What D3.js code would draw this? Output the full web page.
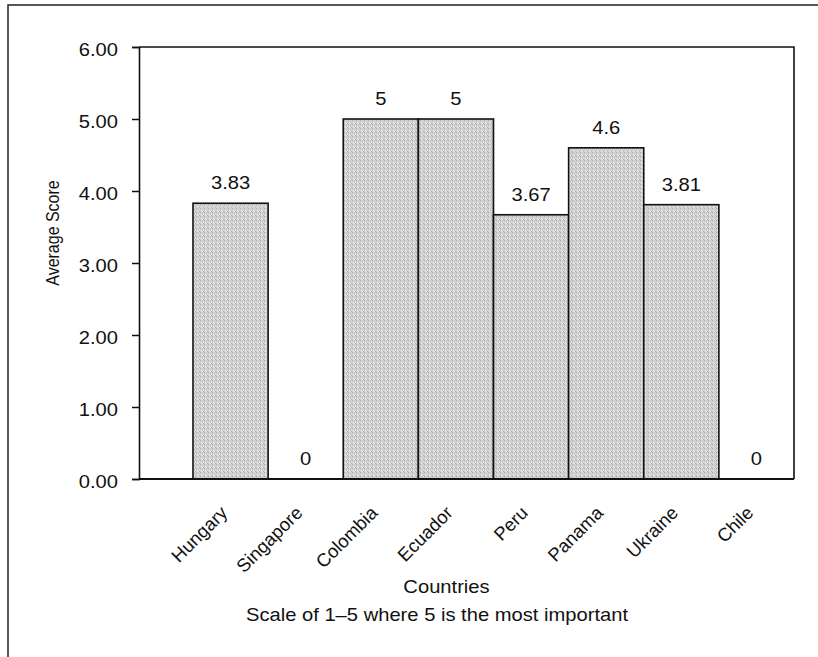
<!DOCTYPE html>
<html>
<head>
<meta charset="utf-8">
<script src="https://cdn.jsdelivr.net/npm/d3@7"></script>
<style>
  html, body { margin: 0; padding: 0; background: #fff; }
  svg { display: block; }
  text { font-family: "Liberation Sans", Arial, Helvetica, sans-serif; fill: #111; }
</style>
</head>
<body>
<svg id="chart" width="818" height="657"></svg>
<script>
// Average importance score by country
const countries = ["Hungary", "Singapore", "Colombia", "Ecuador", "Peru", "Panama", "Ukraine", "Chile"];
const scores = [3.83, 0, 5, 5, 3.67, 4.6, 3.81, 0];
const yTicks = [0, 1, 2, 3, 4, 5, 6];
const yTitle = "Average Score";
const xTitle = "Countries";
const note = "Scale of 1\u20135 where 5 is the most important";

const W = 818, H = 657;
const plot = { left: 139, right: 794, top: 47, bottom: 479 };
const barsLeft = 193;          // first bar starts to the right of the axis
const sx = 1.12;               // horizontal widening of the typeface

const svg = d3.select("#chart");

// pattern: fine grey stipple for the bars
const defs = svg.append("defs");
const pat = defs.append("pattern")
  .attr("id", "stipple").attr("patternUnits", "userSpaceOnUse")
  .attr("width", 4).attr("height", 4);
pat.append("rect").attr("width", 4).attr("height", 4).attr("fill", "#d3d3d3");
[[0,0,"#a9a9a9"],[2,1,"#bdbdbd"],[1,2,"#efefef"],[3,3,"#b4b4b4"],[2,3,"#e6e6e6"],[0,2,"#c4c4c4"]]
  .forEach(([x, y, c]) => pat.append("rect").attr("x", x).attr("y", y)
    .attr("width", 1).attr("height", 1).attr("fill", c));

// outer frame (top and left edges)
svg.append("path")
  .attr("d", `M8,${H} L8,5 L${W},5`)
  .attr("fill", "none").attr("stroke", "#222").attr("stroke-width", 1.5);

const x = d3.scaleBand().domain(countries).range([barsLeft, plot.right]).padding(0);
const y = d3.scaleLinear().domain([0, 6]).range([plot.bottom, plot.top]);

// bars
svg.append("g").selectAll("rect")
  .data(countries.map((c, i) => ({ c, v: scores[i] })))
  .join("rect")
  .attr("x", d => x(d.c))
  .attr("y", d => y(d.v))
  .attr("width", x.bandwidth())
  .attr("height", d => y(0) - y(d.v))
  .attr("fill", "url(#stipple)")
  .attr("stroke", "#111").attr("stroke-width", 1.6);

// plot box: top and right edges
svg.append("path")
  .attr("d", `M${plot.left},${plot.top} L${plot.right},${plot.top} L${plot.right},${plot.bottom}`)
  .attr("fill", "none").attr("stroke", "#111").attr("stroke-width", 1.6);

// x baseline
svg.append("line")
  .attr("x1", plot.left).attr("x2", plot.right)
  .attr("y1", y(0)).attr("y2", y(0))
  .attr("stroke", "#111").attr("stroke-width", 1.8);

// y axis
const yAxis = svg.append("g")
  .attr("transform", `translate(${plot.left},0)`)
  .call(d3.axisLeft(y).tickValues(yTicks).tickSize(7).tickPadding(11.8)
    .tickFormat(d3.format(".2f")));
yAxis.select(".domain").attr("stroke", "#111").attr("stroke-width", 1.6);
yAxis.selectAll(".tick line").attr("stroke", "#111").attr("stroke-width", 1.5);
yAxis.selectAll(".tick text")
  .attr("font-size", 18).attr("fill", "#111")
  .attr("font-family", "Liberation Sans, Arial, sans-serif")
  .attr("dy", "0.47em")
  .attr("transform", `scale(${sx},1)`);

// value labels above the bars
svg.append("g").selectAll("g")
  .data(countries.map((c, i) => ({ c, v: scores[i] })))
  .join("g")
  .attr("transform", d => `translate(${x(d.c) + x.bandwidth() / 2},${y(d.v) - 14}) scale(${sx},1)`)
  .append("text")
  .attr("text-anchor", "middle").attr("font-size", 18)
  .text(d => String(d.v));

// rotated category labels
svg.append("g").selectAll("text")
  .data(countries)
  .join("text")
  .attr("transform", d => `translate(${x(d) + x.bandwidth() / 2 - 2},514) rotate(-45)`)
  .attr("text-anchor", "end").attr("font-size", 18.5)
  .text(d => d);

// axis titles and note
svg.append("g").attr("transform", `translate(59,233) scale(${sx},1) rotate(-90)`)
  .append("text").attr("text-anchor", "middle").attr("font-size", 16).text(yTitle);

svg.append("g").attr("transform", `translate(446.5,593) scale(${sx},1)`)
  .append("text").attr("text-anchor", "middle").attr("font-size", 18).text(xTitle);

svg.append("g").attr("transform", `translate(437,621) scale(${sx},1)`)
  .append("text").attr("text-anchor", "middle").attr("font-size", 18).text(note);
</script>
</body>
</html>
